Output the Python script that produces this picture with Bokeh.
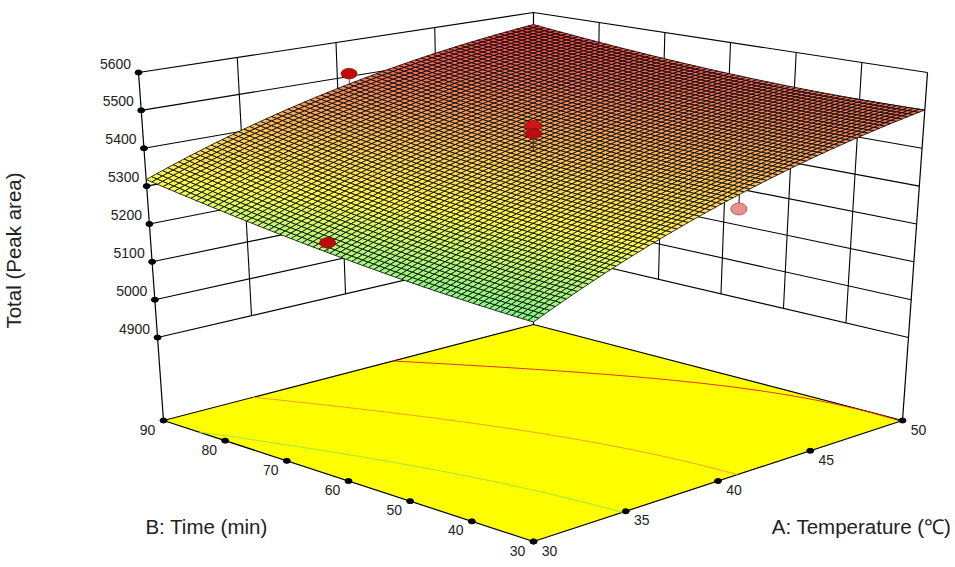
import numpy as np
from bokeh.plotting import figure
from bokeh.models import Range1d
from bokeh.core.properties import value
from bokeh.embed import file_html
from bokeh.resources import INLINE

# ---- data ----
A_TICKS = [30, 35, 40, 45, 50]
B_TICKS = [30, 40, 50, 60, 70, 80, 90]
Z_TICKS = [4900, 5000, 5100, 5200, 5300, 5400, 5500, 5600]
# response read at each tick crossing: one row per B tick, one column per A tick
Z_B30 = [5203, 5308, 5386, 5448, 5500]
Z_B40 = [5212, 5312, 5390, 5451, 5501]
Z_B50 = [5225, 5320, 5397, 5458, 5506]
Z_B60 = [5242, 5332, 5408, 5468, 5514]
Z_B70 = [5264, 5352, 5425, 5483, 5527]
Z_B80 = [5289, 5376, 5446, 5502, 5544]
Z_B90 = [5318, 5402, 5471, 5526, 5565]
CONTOUR_LEVELS = [5300, 5400, 5500]
CONTOUR_COLORS = ["#a4e432", "#f0a020", "#e02a20"]
# design points
PT_A = [40.6, 40.0, 40.0, 30.0]
PT_B = [90.0, 60.0, 60.0, 62.0]
PT_Z = [5508, 5476, 5455, 5271]
PT_COLORS = ["#c00a0a", "#d01515", "#b81010", "#c00a0a"]
LOW_A = [40.6]
LOW_B = [30.0]
LOW_Z = [5357]

AXIS_A = "A: Temperature (\u2103)"
AXIS_B = "B: Time (min)"
AXIS_Z = "Total (Peak area)"

# ---- camera: screen position of the box corners ----
Z_FLOOR, Z_TOP = 4681.0, 5600.0
FLOOR_X = np.array([[533.0, 902.0], [163.0, 533.0]])   # [v][u]
FLOOR_Y = np.array([[541.0, 420.0], [420.0, 324.0]])
TOP_X = np.array([[533.0, 927.0], [138.0, 533.0]])
TOP_Y = np.array([[157.0, 72.0], [72.0, 12.0]])


def bil(m, u, v):
    return (m[0, 0] * (1 - u) * (1 - v) + m[0, 1] * u * (1 - v)
            + m[1, 0] * (1 - u) * v + m[1, 1] * u * v)


def proj(a, b, z):
    u = (np.asarray(a, float) - 30.0) / 20.0
    v = (np.asarray(b, float) - 30.0) / 60.0
    w = (np.asarray(z, float) - Z_FLOOR) / (Z_TOP - Z_FLOOR)
    x = bil(FLOOR_X, u, v) + w * (bil(TOP_X, u, v) - bil(FLOOR_X, u, v))
    y = bil(FLOOR_Y, u, v) + w * (bil(TOP_Y, u, v) - bil(FLOOR_Y, u, v))
    return x, y


# second-order response-surface model through the read values, for the fine mesh
table = np.array([Z_B30, Z_B40, Z_B50, Z_B60, Z_B70, Z_B80, Z_B90], float)
aa, bb = np.meshgrid(A_TICKS, B_TICKS)


def basis(a, b):
    u, v = (np.ravel(a) - 30.0) / 20.0, (np.ravel(b) - 30.0) / 60.0
    return np.column_stack([np.ones_like(u), u, v, u * u, v * v, u * v])


coef, *_ = np.linalg.lstsq(basis(aa, bb), table.ravel(), rcond=None)


def model(a, b):
    a = np.asarray(a, float)
    return (basis(a, b) @ coef).reshape(a.shape)


STOPS_Z = [5200, 5260, 5320, 5380, 5440, 5500, 5570]
STOPS_R = [125, 185, 255, 255, 245, 235, 245]
STOPS_G = [245, 250, 250, 215, 165, 110, 65]
STOPS_B = [135, 120, 80, 90, 95, 90, 70]


def shade(z):
    return "#%02x%02x%02x" % (int(np.interp(z, STOPS_Z, STOPS_R)),
                              int(np.interp(z, STOPS_Z, STOPS_G)),
                              int(np.interp(z, STOPS_Z, STOPS_B)))


p = figure(width=955, height=567, x_range=Range1d(0, 955), y_range=Range1d(567, 0),
           x_axis_location=None, y_axis_location=None, toolbar_location=None,
           output_backend="svg", min_border=0)
p.grid.visible = False
p.outline_line_color = None
p.background_fill_color = "white"

FONT = value("Liberation Sans")
INK = "#000000"

# back walls
for z in Z_TICKS:
    x, y = proj([30, 50, 50], [90, 90, 30], [z, z, z])
    p.line(x, y, line_color=INK, line_width=1.1)
for a in A_TICKS[1:-1]:
    x, y = proj([a, a], [90, 90], [Z_TICKS[0], Z_TICKS[-1]])
    p.line(x, y, line_color=INK, line_width=1.1)
for b in B_TICKS[1:-1]:
    x, y = proj([50, 50], [b, b], [Z_TICKS[0], Z_TICKS[-1]])
    p.line(x, y, line_color=INK, line_width=1.1)
for a, b in [(30, 90), (50, 90), (50, 30)]:
    x, y = proj([a, a], [b, b], [Z_FLOOR, Z_TOP])
    p.line(x, y, line_color=INK, line_width=1.2)

# floor
fx, fy = proj([30, 50, 50, 30], [30, 30, 90, 90], [Z_FLOOR] * 4)
p.patch(fx, fy, fill_color="#ffff00", line_color=INK, line_width=1.2)

# contours on the floor
vs = np.linspace(30, 90, 240)
us = np.linspace(30, 50, 400)
for level, col in zip(CONTOUR_LEVELS, CONTOUR_COLORS):
    ca, cb = [], []
    for b in vs:
        zs = model(us, np.full_like(us, b))
        if zs.min() <= level <= zs.max():
            ca.append(np.interp(level, zs, us))
            cb.append(b)
    x, y = proj(ca, cb, [Z_FLOOR] * len(ca))
    p.line(x, y, line_color=col, line_width=1.0)

# design point below the surface, with its stem
for a, b, z in zip(LOW_A, LOW_B, LOW_Z):
    sx, sy = proj([a, a], [b, b], [z, float(model(np.array([a]), np.array([b]))[0])])
    p.line(sx, sy, line_color=INK, line_width=1)
    px, py = proj(a, b, z)
    p.ellipse([float(px)], [float(py)], width=16, height=12, fill_color="#e89090",
              line_color="#a86060", line_width=1)

# surface mesh
N = 70
ga = np.linspace(30, 50, N + 1)
gb = np.linspace(90, 30, N + 1)
AA, BB = np.meshgrid(ga, gb)
ZZ = model(AA, BB)
SX, SY = proj(AA, BB, ZZ)
xs, ys, cols = [], [], []
for i in range(N):
    for j in range(N):
        xs.append([SX[i, j], SX[i, j + 1], SX[i + 1, j + 1], SX[i + 1, j]])
        ys.append([SY[i, j], SY[i, j + 1], SY[i + 1, j + 1], SY[i + 1, j]])
        cols.append(shade(ZZ[i:i + 2, j:j + 2].mean()))
p.patches(xs, ys, fill_color=cols, line_color="#000000", line_width=0.8)

# design points above the surface, with stems
for a, b, z, col in zip(PT_A, PT_B, PT_Z, PT_COLORS):
    sx, sy = proj([a, a], [b, b], [z, float(model(np.array([a]), np.array([b]))[0])])
    p.line(sx, sy, line_color="#333333", line_width=0.8)
for a, b, z, col in zip(PT_A, PT_B, PT_Z, PT_COLORS):
    px, py = proj(a, b, z)
    p.ellipse([float(px)], [float(py)], width=16, height=10.5, fill_color=col,
              line_color="#8a0808", line_width=0.8)

# ticks
tz_x, tz_y = proj([30] * len(Z_TICKS), [90] * len(Z_TICKS), Z_TICKS)
ta_x, ta_y = proj(A_TICKS, [30] * len(A_TICKS), [Z_FLOOR] * len(A_TICKS))
tb_x, tb_y = proj([30] * len(B_TICKS), B_TICKS, [Z_FLOOR] * len(B_TICKS))
for tx, ty in [(tz_x, tz_y), (ta_x, ta_y), (tb_x, tb_y)]:
    p.ellipse(list(tx), list(ty), width=7, height=5, fill_color=INK, line_color=INK)

LABEL = "#222222"
p.text(list(tz_x - 23), list(tz_y - 9), text=[str(t) for t in Z_TICKS], text_font=FONT,
       text_font_size="14px", text_color=LABEL, text_align="center", text_baseline="middle")
p.text(list(ta_x + 16), list(ta_y + 9), text=[str(t) for t in A_TICKS], text_font=FONT,
       text_font_size="14px", text_color=LABEL, text_align="center", text_baseline="middle")
p.text(list(tb_x - 16), list(tb_y + 9), text=[str(t) for t in B_TICKS], text_font=FONT,
       text_font_size="14px", text_color=LABEL, text_align="center", text_baseline="middle")

# axis titles
p.text([206], [526], text=[AXIS_B], text_font=FONT, text_font_size="20.5px", text_color=LABEL,
       text_align="center", text_baseline="middle")
p.text([861], [526], text=[AXIS_A], text_font=FONT, text_font_size="20.5px", text_color=LABEL,
       text_align="center", text_baseline="middle")
p.text([13], [250], text=[AXIS_Z], text_font=FONT, text_font_size="20.5px", text_color=LABEL,
       text_align="center", text_baseline="middle", angle=np.pi / 2)

open("out.html", "w").write(file_html(p, INLINE))
